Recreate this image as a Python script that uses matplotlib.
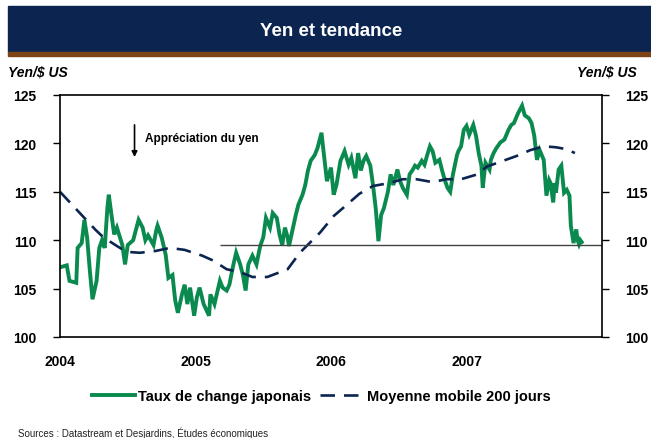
"""Yen et tendance: taux de change yen/$ US et moyenne mobile 200 jours."""

import matplotlib

matplotlib.use("Agg")
import matplotlib.pyplot as plt
from matplotlib.patches import Rectangle

plt.rcParams["font.family"] = ["Liberation Sans", "DejaVu Sans"]

NAVY = "#0b2550"
GREEN = "#0a8a4e"
BROWN = "#7c4414"

# dates in decimal years, values in yen per US dollar
fx_dates = [
    2004.00, 2004.05, 2004.07, 2004.12, 2004.13, 2004.16, 2004.18, 2004.20,
    2004.22, 2004.24, 2004.27, 2004.29, 2004.31, 2004.33, 2004.35, 2004.36,
    2004.38, 2004.40, 2004.42, 2004.46, 2004.48, 2004.50, 2004.54, 2004.58,
    2004.61, 2004.63, 2004.65, 2004.69, 2004.71, 2004.72, 2004.75, 2004.78,
    2004.80, 2004.83, 2004.85, 2004.87, 2004.90, 2004.92, 2004.94, 2004.96,
    2004.99, 2005.01, 2005.03, 2005.06, 2005.10, 2005.11, 2005.14, 2005.18,
    2005.20, 2005.23, 2005.25, 2005.28, 2005.30, 2005.33, 2005.35, 2005.37,
    2005.39, 2005.42, 2005.45, 2005.47, 2005.48, 2005.50, 2005.52, 2005.55,
    2005.57, 2005.60, 2005.62, 2005.64, 2005.66, 2005.68, 2005.69, 2005.72,
    2005.74, 2005.76, 2005.79, 2005.81, 2005.83, 2005.85, 2005.88, 2005.90,
    2005.93, 2005.94, 2005.97, 2006.00, 2006.02, 2006.04, 2006.07, 2006.10,
    2006.13, 2006.15, 2006.18, 2006.20, 2006.22, 2006.24, 2006.26, 2006.29,
    2006.31, 2006.33, 2006.35, 2006.37, 2006.39, 2006.42, 2006.44, 2006.46,
    2006.49, 2006.51, 2006.53, 2006.56, 2006.58, 2006.60, 2006.62, 2006.64,
    2006.67, 2006.69, 2006.71, 2006.73, 2006.75, 2006.77, 2006.80, 2006.82,
    2006.84, 2006.86, 2006.88, 2006.90, 2006.93, 2006.94, 2006.96, 2006.98,
    2007.00, 2007.02, 2007.05, 2007.07, 2007.09, 2007.11, 2007.12, 2007.14,
    2007.17, 2007.18, 2007.20, 2007.22, 2007.25, 2007.28, 2007.31, 2007.33,
    2007.35, 2007.38, 2007.41, 2007.43, 2007.46, 2007.48, 2007.50, 2007.52,
    2007.54, 2007.57, 2007.59, 2007.61, 2007.62, 2007.64, 2007.65, 2007.66,
    2007.68, 2007.70, 2007.72, 2007.74, 2007.76, 2007.77, 2007.79, 2007.81,
    2007.82, 2007.83, 2007.84, 2007.85,
]
fx_values = [
    107.2, 107.4, 105.8, 105.6, 109.2, 109.7, 112.1, 110.3,
    106.9, 103.9, 105.8, 109.2, 110.0, 109.2, 113.4, 114.7,
    112.6, 110.6, 111.3, 109.5, 107.5, 109.5, 110.0, 112.1,
    111.3, 110.0, 110.5, 109.5, 111.0, 111.5, 110.3, 108.5,
    106.1, 106.4, 103.8, 102.5, 104.4, 105.4, 103.4, 105.1,
    102.2, 104.1, 105.1, 103.4, 102.2, 104.4, 103.4, 105.8,
    105.1, 104.8, 105.4, 107.5, 108.7, 107.5, 106.4, 104.8,
    107.5, 108.4, 107.5, 108.9, 109.5, 110.3, 112.3, 111.3,
    112.8, 112.3, 110.6, 109.5, 111.3, 110.3, 109.4, 111.3,
    112.6, 113.7, 114.7, 115.7, 117.2, 118.2, 118.8, 119.5,
    121.1, 119.8, 116.1, 117.5, 114.7, 115.7, 118.2, 119.2,
    117.8, 118.5, 116.4, 119.0, 117.2, 118.2, 118.7, 117.7,
    115.7, 113.3, 109.9, 112.6, 113.3, 115.0, 116.8, 115.7,
    117.3, 116.1, 115.4, 114.7, 116.8, 117.2, 117.7, 117.5,
    118.2, 117.8, 118.8, 119.7, 119.2, 118.0, 118.3, 117.2,
    116.2, 115.4, 115.0, 116.8, 118.8, 119.2, 119.7, 121.4,
    121.8, 120.9, 121.9, 120.8, 119.0, 117.7, 115.4, 118.0,
    117.3, 118.3, 119.0, 119.5, 120.1, 120.4, 121.4, 121.9,
    122.1, 123.1, 123.9, 122.9, 122.6, 122.1, 120.8, 118.3,
    119.3, 118.3, 114.6, 116.2, 115.9, 113.9, 115.9, 114.9,
    117.3, 117.7, 114.9, 115.2, 114.6, 111.5, 109.7, 111.1,
    110.0, 109.6, 110.0, 109.8,
]

ma_dates = [
    2004.00, 2004.10, 2004.16, 2004.26, 2004.32, 2004.42, 2004.49, 2004.59,
    2004.71, 2004.81, 2004.92, 2005.05, 2005.13, 2005.23, 2005.33, 2005.42,
    2005.53, 2005.68, 2005.77, 2005.92, 2006.02, 2006.12, 2006.21, 2006.31,
    2006.43, 2006.53, 2006.63, 2006.75, 2006.85, 2006.96, 2007.08, 2007.15,
    2007.25, 2007.37, 2007.47, 2007.57, 2007.66, 2007.74, 2007.80,
]
ma_values = [
    115.0, 113.5, 112.6, 111.1, 110.3, 109.4, 108.8, 108.7,
    108.9, 109.2, 109.0, 108.4, 107.9, 107.0, 106.7, 106.2,
    106.2, 107.0, 108.7, 110.8, 112.5, 113.7, 114.8, 115.6,
    115.9, 116.3, 116.3, 116.0, 116.3, 116.3, 116.8, 117.6,
    118.1, 118.7, 119.3, 119.7, 119.6, 119.4, 119.0,
]

year_ticks = [2004, 2005, 2006, 2007]
value_ticks = [100, 105, 110, 115, 120, 125]
reference_level = 109.5
reference_start = 2005.18

fig = plt.figure(figsize=(6.51, 4.39), dpi=100)
W, H = 651, 439

# header band with brown underline
fig.patches.append(Rectangle((8 / W, 1 - 53 / H), 1 - 8 / W, 46 / H,
                             transform=fig.transFigure, color=NAVY, zorder=0))
fig.patches.append(Rectangle((8 / W, 1 - 57 / H), 1 - 8 / W, 4 / H,
                             transform=fig.transFigure, color=BROWN, zorder=0))
fig.text(331 / W, 1 - 31 / H, "Yen et tendance", color="white",
         fontsize=13.5, fontweight="bold", ha="center", va="center")

fig.text(8 / W, 1 - 73 / H, "Yen/$ US", fontsize=10, fontweight="bold",
         fontstyle="italic", ha="left", va="center")
fig.text(637 / W, 1 - 73 / H, "Yen/$ US", fontsize=10, fontweight="bold",
         fontstyle="italic", ha="right", va="center")

ax = fig.add_axes([60 / W, 1 - 338 / H, 542 / W, 242 / H])
ax.plot(fx_dates, fx_values, color=GREEN, lw=2.8, solid_joinstyle="miter",
        label="Taux de change japonais")
ax.plot(ma_dates, ma_values, color=NAVY, lw=1.9, dashes=(5.5, 3.4),
        label="Moyenne mobile 200 jours")
ax.hlines(reference_level, reference_start, 2008, color="#444444", lw=1.0)

ax.set_xlim(2004, 2008)
ax.set_ylim(100, 125)
ax.set_xticks(year_ticks)
ax.set_xticklabels([str(y) for y in year_ticks])
ax.set_yticks(value_ticks)
ax.tick_params(axis="x", length=0, pad=12, labelsize=10)
ax.tick_params(axis="y", length=5, width=1, direction="out", labelsize=10,
               left=True, right=True, labelleft=True, labelright=True, pad=12)
for label in ax.get_xticklabels() + ax.get_yticklabels():
    label.set_fontweight("bold")
for spine in ax.spines.values():
    spine.set_linewidth(1.2)

ax.annotate("", xy=(2004.55, 118.3), xytext=(2004.55, 122.2),
            arrowprops=dict(arrowstyle="-|>", color="black", lw=1.2,
                            mutation_scale=8))
ax.text(2004.63, 120.6, "Appréciation du yen", fontsize=8.5,
        fontweight="bold", va="center", ha="left")

leg = fig.legend(loc="center", bbox_to_anchor=(321 / W, 1 - 397 / H), ncol=2,
                 frameon=False, handlelength=3.0, handletextpad=0.2,
                 columnspacing=0.6, prop={"weight": "bold", "size": 10.5})

fig.text(18 / W, 1 - 433 / H,
         "Sources : Datastream et Desjardins, Études économiques",
         fontsize=7, ha="left", va="center", color="#222222")

fig.savefig("out.png", dpi=100)
